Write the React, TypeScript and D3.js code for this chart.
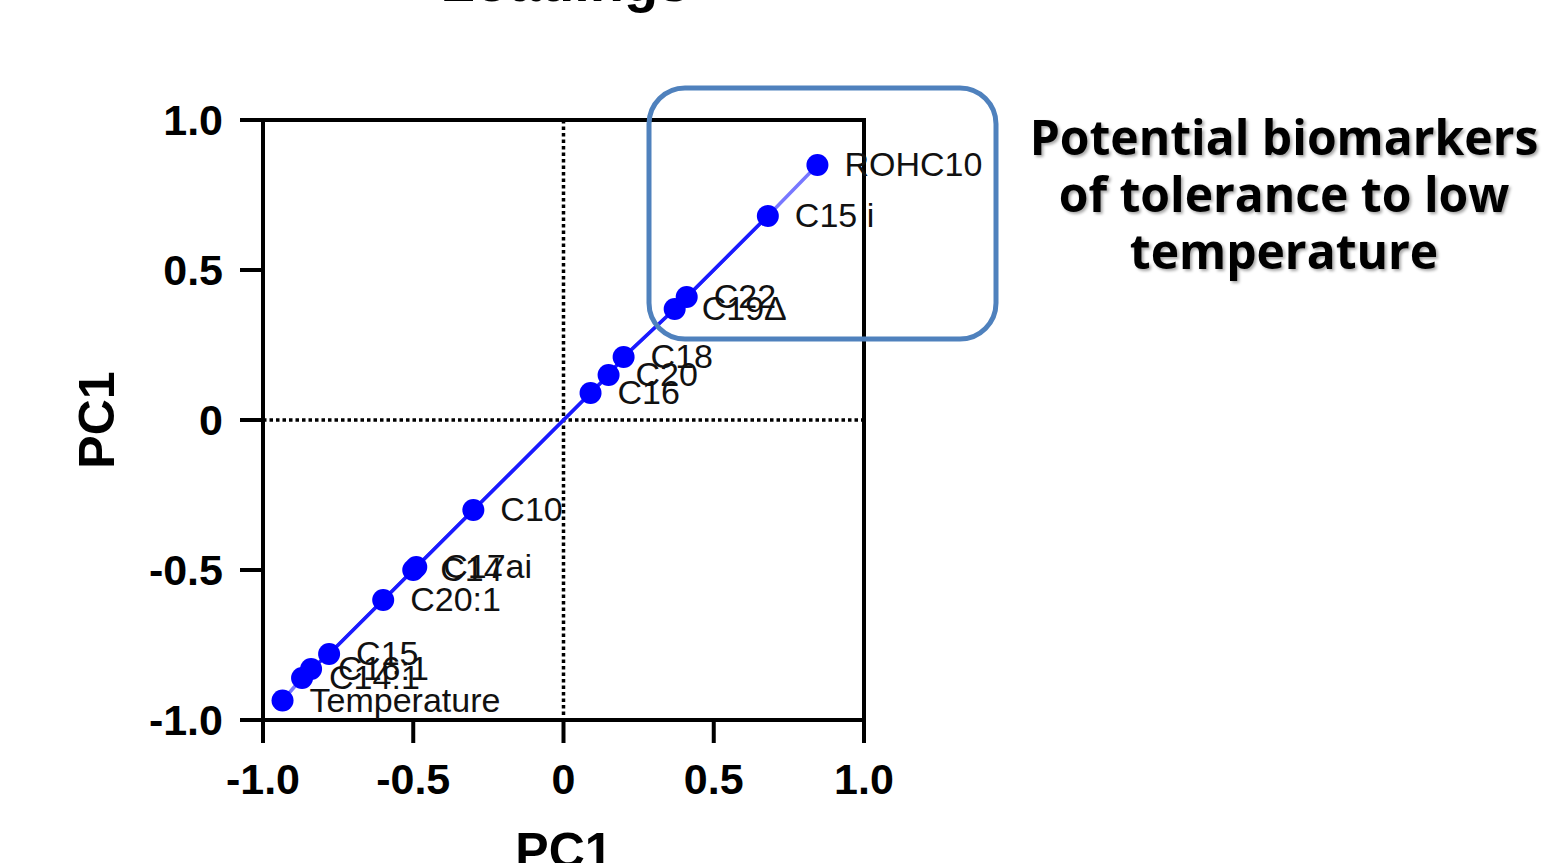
import React from "react";
import * as d3 from "d3";

// loadings
const names = [
  "Temperature", "C14:1", "C16:1", "C15", "C20:1", "C14", "C17ai", "C10",
  "C16", "C20", "C18", "C19Δ", "C22", "C15 i", "ROHC10",
];
const xValues = [-0.935, -0.87, -0.84, -0.78, -0.6, -0.5, -0.49, -0.3, 0.09, 0.15, 0.2, 0.37, 0.41, 0.68, 0.845];
const yValues = [-0.935, -0.86, -0.83, -0.78, -0.6, -0.5, -0.49, -0.3, 0.09, 0.15, 0.21, 0.37, 0.41, 0.68, 0.85];
const tickValues = [-1, -0.5, 0, 0.5, 1];
const noteLines = ["Potential biomarkers", "of tolerance to low", "temperature"];

const W = 1545;
const H = 863;
const plot = { left: 263, right: 864, top: 120, bottom: 720 };
const fmt = (v: number) => (v === 0 ? "0" : v.toFixed(1));

function App() {
  const x = d3.scaleLinear().domain([-1, 1]).range([plot.left, plot.right]);
  const y = d3.scaleLinear().domain([-1, 1]).range([plot.bottom, plot.top]);
  const pts = names.map((n, i) => ({ name: n, x: xValues[i], y: yValues[i] }));
  const line = d3
    .line<{ x: number; y: number }>()
    .x((d) => x(d.x))
    .y((d) => y(d.y));
  const inner = pts.slice(1, pts.length - 1);

  const sans = "'Liberation Sans', Arial, sans-serif";

  return (
    <svg
      width={W}
      height={H}
      style={{ position: "absolute", left: 0, top: 0, background: "#fff" }}
    >
      <defs>
        <filter id="shadow" x="-10%" y="-10%" width="120%" height="130%">
          <feDropShadow dx="2" dy="2" stdDeviation="1.5" floodColor="#000" floodOpacity="0.35" />
        </filter>
      </defs>
      <rect width={W} height={H} fill="#fff" />

      {/* title, mostly cut off at the top */}
      <text x={565} y={1} textAnchor="middle" fontFamily={sans} fontWeight="bold" fontSize={56}>
        Loadings
      </text>

      {/* zero lines */}
      <line x1={x(0)} x2={x(0)} y1={plot.top} y2={plot.bottom} stroke="#000" strokeWidth={3.5} strokeDasharray="3.5,3" />
      <line x1={plot.left} x2={plot.right} y1={y(0)} y2={y(0)} stroke="#000" strokeWidth={3.5} strokeDasharray="3.5,3" />

      {/* frame */}
      <rect
        x={plot.left}
        y={plot.top}
        width={plot.right - plot.left}
        height={plot.bottom - plot.top}
        fill="none"
        stroke="#000"
        strokeWidth={4}
      />

      {/* ticks */}
      {tickValues.map((t) => (
        <g key={"x" + t}>
          <line x1={x(t)} x2={x(t)} y1={plot.bottom} y2={plot.bottom + 23} stroke="#000" strokeWidth={4} />
          <text x={x(t)} y={794} textAnchor="middle" fontFamily={sans} fontWeight="bold" fontSize={43}>
            {fmt(t)}
          </text>
        </g>
      ))}
      {tickValues.map((t) => (
        <g key={"y" + t}>
          <line x1={plot.left - 23} x2={plot.left} y1={y(t)} y2={y(t)} stroke="#000" strokeWidth={4} />
          <text x={223} y={y(t) + 15} textAnchor="end" fontFamily={sans} fontWeight="bold" fontSize={43}>
            {fmt(t)}
          </text>
        </g>
      ))}

      {/* axis titles */}
      <text x={564} y={868} textAnchor="middle" fontFamily={sans} fontWeight="bold" fontSize={50}>
        PC1
      </text>
      <text
        transform={`translate(114,${y(0)}) rotate(-90)`}
        textAnchor="middle"
        fontFamily={sans}
        fontWeight="bold"
        fontSize={50}
      >
        PC1
      </text>

      {/* connecting line */}
      <path d={line(pts) || ""} fill="none" stroke="#7878ff" strokeWidth={3.5} />
      <path d={line(inner) || ""} fill="none" stroke="#1a1aff" strokeWidth={3.5} />

      {/* points */}
      {pts.map((p) => (
        <circle key={p.name} cx={x(p.x)} cy={y(p.y)} r={11} fill="#0000ff" />
      ))}

      {/* labels */}
      {pts.map((p) => (
        <text
          key={"l" + p.name}
          x={x(p.x) + 27}
          y={y(p.y) + 11}
          fontFamily={sans}
          fontSize={34}
          fill="#111"
        >
          {p.name}
        </text>
      ))}

      {/* highlight box */}
      <rect x={649} y={88} width={347} height={251} rx={36} ry={36} fill="none" stroke="#4f81bd" strokeWidth={5} />

      {/* note */}
      <g filter="url(#shadow)">
        {noteLines.map((s, i) => (
          <text
            key={s}
            x={1284}
            y={155 + i * 57}
            textAnchor="middle"
            fontFamily="'Open Sans', sans-serif"
            fontWeight="bold"
            fontSize={48}
          >
            {s}
          </text>
        ))}
      </g>
    </svg>
  );
}

export default App;
